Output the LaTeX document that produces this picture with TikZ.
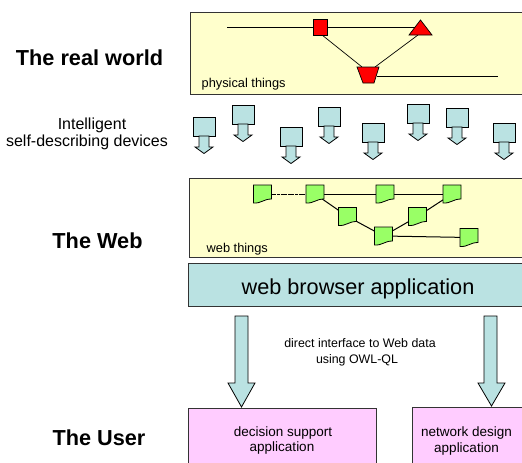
\documentclass[tikz,border=0pt]{standalone}
\usepackage{fontspec}
\setmainfont{Liberation Sans}
\definecolor{ylw}{HTML}{FFFFCC}
\definecolor{cyn}{HTML}{BAE2E2}
\definecolor{pnk}{HTML}{FFCCFF}
\definecolor{grn}{HTML}{99FF66}
\definecolor{rd}{HTML}{FF0000}
\definecolor{bord}{HTML}{333333}
\tikzset{
  panel/.style={draw=bord, line width=1pt},
  thinline/.style={draw=black, line width=0.7pt},
  redshape/.style={draw=black, fill=rd, line width=0.7pt},
  devbox/.style={draw=black, fill=cyn, line width=0.8pt},
  wtshape/.style={draw=black, fill=grn, line width=0.8pt},
  wtedge/.style={draw=black, line width=1pt},
  bigarrow/.style={draw=black, fill=cyn, line width=0.8pt},
  bigtxt/.style={font=\fontsize{21.7}{26}\selectfont, anchor=base, inner sep=0pt},
  boldtxt/.style={font=\fontsize{21.7}{26}\selectfont\bfseries, anchor=base, inner sep=0pt},
  midtxt/.style={font=\fontsize{16}{18}\selectfont, anchor=base, inner sep=0pt},
  apptxt/.style={font=\fontsize{13.5}{16}\selectfont, anchor=base, inner sep=0pt},
  smalltxt/.style={font=\fontsize{12.4}{15}\selectfont, anchor=base, inner sep=0pt},
  tagtxt/.style={font=\fontsize{12.8}{15}\selectfont, anchor=base west, inner sep=0pt},
  device/.pic={
    \draw[devbox] (0,0) rectangle (22,19);
    \draw[devbox] (6,19) -- (6,30) -- (2,30) -- (11,36.5) -- (20,30) -- (16,30) -- (16,19) -- cycle;
  },
  wthing/.pic={
    \draw[wtshape] (-9,-9) -- (9,-9) -- (9,5) .. controls (1,5) and (-1,9.5) .. (-9,9) -- cycle;
  }
}
\begin{document}
\begin{tikzpicture}[x=1pt,y=-1pt]
\useasboundingbox (0,0) rectangle (522,463);
\clip (0,0) rectangle (522,463);

% ---------- panels ----------
\path[panel, fill=ylw] (190,12) rectangle (545,94);
\path[panel, fill=ylw] (189,178) rectangle (545,257);
\path[panel, fill=cyn] (188,263) rectangle (545,306);
\path[panel, fill=pnk] (188,408) rectangle (376,480);
\path[panel, fill=pnk] (412,407) rectangle (545,480);

% ---------- physical things ----------
\coordinate (lstart) at (227,27);
\coordinate (tri) at (420,27);
\coordinate (sqbr) at (322,35);
\coordinate (trapl) at (362,67);
\coordinate (trapr) at (375,67);
\coordinate (tribl) at (418,35);
\coordinate (trapmid) at (377,76);
\coordinate (lend) at (498,76);
\draw[thinline] (lstart) -- (tri);
\draw[thinline] (sqbr) -- (trapl);
\draw[thinline] (tribl) -- (trapr);
\draw[thinline] (trapmid) -- (lend);
\path[redshape] (313,19) rectangle (327,35);
\path[redshape] (409,35) -- (420.5,20) -- (432,35) -- cycle;
\path[redshape] (357,67) -- (379,67) -- (374,83) -- (363,83) -- cycle;
\node[tagtxt] (phys) at (201.5,87.5) {physical things};

% ---------- devices ----------
\pic at (193,117) {device};
\pic at (232,105) {device};
\pic at (280,127) {device};
\pic at (318,107) {device};
\pic at (362,123) {device};
\pic at (407,104) {device};
\pic at (446,108) {device};
\pic at (493,123) {device};

% ---------- web things ----------
\coordinate (A) at (262.5,194);
\coordinate (B) at (315,194);
\coordinate (C) at (385,194);
\coordinate (D) at (452,194);
\coordinate (E) at (347.5,216.5);
\coordinate (F) at (417.5,216.5);
\coordinate (G) at (383.5,236);
\coordinate (H) at (469,237.5);
\draw[wtedge, dash pattern=on 3pt off 0.6pt] (A) -- (B);
\draw[wtedge] (B) -- (C);
\draw[wtedge] (C) -- (D);
\draw[wtedge] (B) -- (E);
\draw[wtedge] (E) -- (G);
\draw[wtedge] (G) -- (F);
\draw[wtedge] (F) -- (D);
\draw[wtedge] (G) -- (H);
\foreach \p in {A,B,C,D,E,F,G,H} { \pic at (\p) {wthing}; }
\node[tagtxt] (webtag) at (206.5,252.5) {web things};

% ---------- browser ----------
\node[bigtxt] (browser) at (358,294) {web browser application};

% ---------- big arrows ----------
\path[bigarrow] (235,316) -- (235,383) -- (228,383) -- (241.5,407) -- (255,383) -- (248,383) -- (248,316) -- cycle;
\path[bigarrow] (484,316) -- (484,383) -- (478,383) -- (491.5,406) -- (505,383) -- (497,383) -- (497,316) -- cycle;
\node[smalltxt] (di1) at (360,347.5) {direct interface to Web data};
\node[smalltxt] (di2) at (357,363) {using OWL-QL};

% ---------- apps ----------
\node[apptxt] (ds1) at (283,436) {decision support};
\node[apptxt] (ds2) at (282,451.5) {application};
\node[apptxt] (nd1) at (466.5,436.5) {network design};
\node[apptxt] (nd2) at (466.5,452) {application};

% ---------- left labels ----------
\node[boldtxt] (real) at (89.5,65) {The real world};
\node[midtxt] (intel1) at (92,129) {Intelligent};
\node[midtxt] (intel2) at (87,146) {self-describing devices};
\node[boldtxt] (web) at (97.5,248.3) {The Web};
\node[boldtxt] (user) at (99,445) {The User};
\end{tikzpicture}
\end{document}
